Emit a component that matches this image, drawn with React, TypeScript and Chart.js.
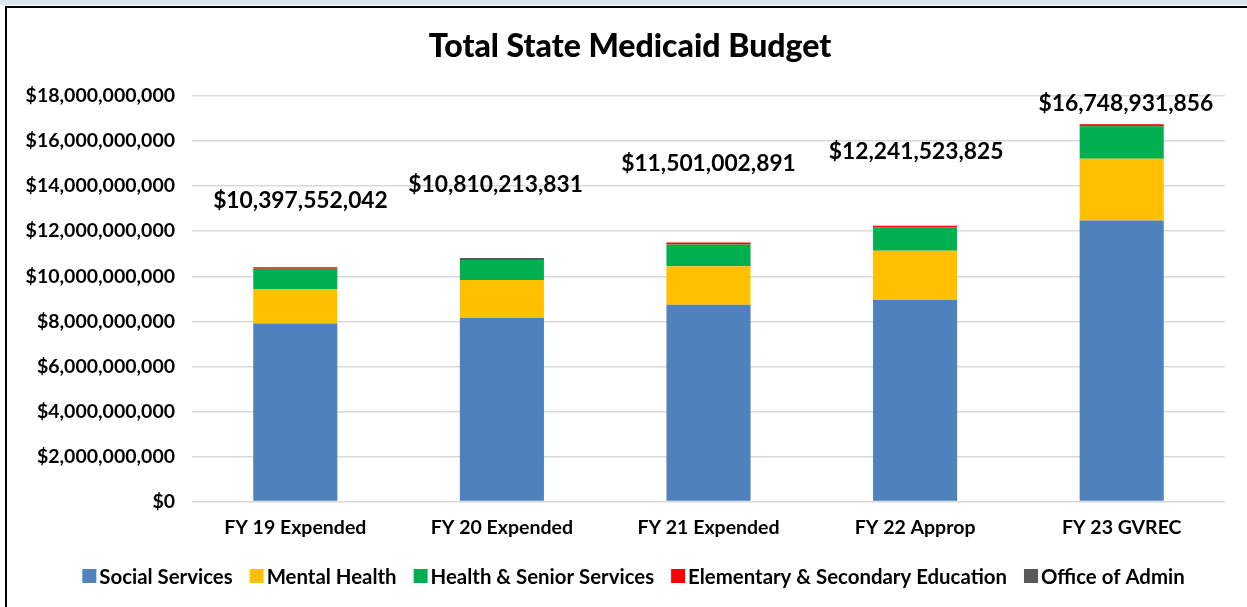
import React, { useEffect, useRef } from "react";
import { Chart, registerables } from "chart.js";

Chart.register(...registerables);

const chartTitle = "Total State Medicaid Budget";
const categories = ["FY 19 Expended", "FY 20 Expended", "FY 21 Expended", "FY 22 Approp", "FY 23 GVREC"];
const seriesNames = [
  "Social Services",
  "Mental Health",
  "Health & Senior Services",
  "Elementary & Secondary Education",
  "Office of Admin",
];
const seriesColors = ["#4f81bd", "#ffc000", "#00b050", "#ff0000", "#595959"];
const socialServices = [7.9e9, 8.15e9, 8.74e9, 8.95e9, 12.48e9];
const mentalHealth = [1.54e9, 1.68e9, 1.71e9, 2.18e9, 2.74e9];
const healthSenior = [0.89e9, 0.89e9, 0.96e9, 1.03e9, 1.44e9];
const elemSecondary = [0.068e9, 0, 0.09e9, 0.08e9, 0.089e9];
const officeAdmin = [0, 0.09e9, 0, 0, 0];
const totals = [10397552042, 10810213831, 11501002891, 12241523825, 16748931856];
// placement of the total labels: vertical in data units, horizontal shift in category units
const totalLabelY = [13.36e9, 14.07e9, 15.0e9, 15.54e9, 17.67e9];
const totalLabelShift = [0.025, -0.03, 0, 0.005, 0.02];
const yMax = 18e9;
const yStep = 2e9;

const FONT = "Lato";
const AXIS_SIZE = 19.5;
const LEGEND_SIZE = 20.4;

const totalsPlugin = {
  id: "totalsLabels",
  afterDatasetsDraw(chart: any) {
    const { ctx, scales } = chart;
    const x = scales.x;
    const y = scales.y;
    ctx.save();
    ctx.font = `bold 22.8px ${FONT}`;
    ctx.fillStyle = "#000";
    ctx.textAlign = "center";
    ctx.textBaseline = "middle";
    totals.forEach((t, i) => {
      ctx.fillText(
        "$" + t.toLocaleString("en-US"),
        x.getPixelForDecimal((i + 0.5 + totalLabelShift[i]) / categories.length),
        y.getPixelForValue(totalLabelY[i])
      );
    });
    ctx.restore();
  },
};

const titleAndLegendPlugin = {
  id: "titleAndLegend",
  afterDraw(chart: any) {
    const { ctx } = chart;
    ctx.save();
    // title
    ctx.font = `900 32px ${FONT}`;
    ctx.fillStyle = "#000";
    ctx.textAlign = "center";
    ctx.textBaseline = "middle";
    ctx.fillText(chartTitle, 630, 47);
    // legend
    const box = 14;
    const boxGap = 3;
    const itemGap = 17;
    ctx.font = `bold ${LEGEND_SIZE}px ${FONT}`;
    const widths = seriesNames.map((n) => ctx.measureText(n).width);
    const total = widths.reduce((a, w) => a + box + boxGap + w, 0) + itemGap * (seriesNames.length - 1);
    const cy = 576;
    let x = 633.5 - total / 2;
    ctx.textAlign = "left";
    seriesNames.forEach((n, i) => {
      ctx.fillStyle = seriesColors[i];
      ctx.fillRect(x, cy - box / 2, box, box);
      ctx.fillStyle = "#000";
      ctx.fillText(n, x + box + boxGap, cy + 1);
      x += box + boxGap + widths[i] + itemGap;
    });
    ctx.restore();
  },
};

export default function App() {
  const ref = useRef<HTMLCanvasElement>(null);

  useEffect(() => {
    if (!ref.current) return;
    const chart = new Chart(ref.current, {
      type: "bar",
      data: {
        labels: categories,
        datasets: [
          { label: seriesNames[0], data: socialServices, backgroundColor: seriesColors[0] },
          { label: seriesNames[1], data: mentalHealth, backgroundColor: seriesColors[1] },
          { label: seriesNames[2], data: healthSenior, backgroundColor: seriesColors[2] },
          { label: seriesNames[3], data: elemSecondary, backgroundColor: seriesColors[3] },
          { label: seriesNames[4], data: officeAdmin, backgroundColor: seriesColors[4] },
        ],
      },
      options: {
        responsive: false,
        animation: false,
        layout: { padding: { left: 0, right: 22, top: 96, bottom: 54 } },
        datasets: { bar: { categoryPercentage: 1, barPercentage: 0.407, borderWidth: 0 } },
        scales: {
          x: {
            stacked: true,
            grid: { display: false, drawTicks: false },
            border: { display: false },
            ticks: { color: "#000", font: { family: FONT, size: AXIS_SIZE, weight: "bold" }, padding: 14 },
          },
          y: {
            stacked: true,
            min: 0,
            max: yMax,
            grid: { color: "#d9d9d9", lineWidth: 1.5, drawTicks: false },
            border: { display: false },
            ticks: {
              stepSize: yStep,
              color: "#000",
              padding: 17,
              font: { family: FONT, size: AXIS_SIZE, weight: "bold" },
              callback: (v: any) => "$" + Number(v).toLocaleString("en-US"),
            },
            afterFit: (s: any) => {
              s.width = 192;
            },
          },
        },
        plugins: {
          title: { display: false },
          legend: { display: false },
          tooltip: { enabled: false },
        },
      },
      plugins: [totalsPlugin, titleAndLegendPlugin],
    });
    return () => chart.destroy();
  }, []);

  return (
    <div style={{ position: "fixed", left: 0, top: 0, width: 1247, height: 607, background: "#fff", overflow: "hidden" }}>
      <div style={{ position: "absolute", left: 0, top: 0, width: 1247, height: 5, background: "#dce6f1" }} />
      <div style={{ position: "absolute", left: 5, top: 6, width: 1242, height: 2, background: "#000" }} />
      <div style={{ position: "absolute", left: 5, top: 6, width: 2, height: 601, background: "#000" }} />
      <canvas ref={ref} width={1247} height={607} style={{ position: "absolute", left: 0, top: 0 }} />
    </div>
  );
}
